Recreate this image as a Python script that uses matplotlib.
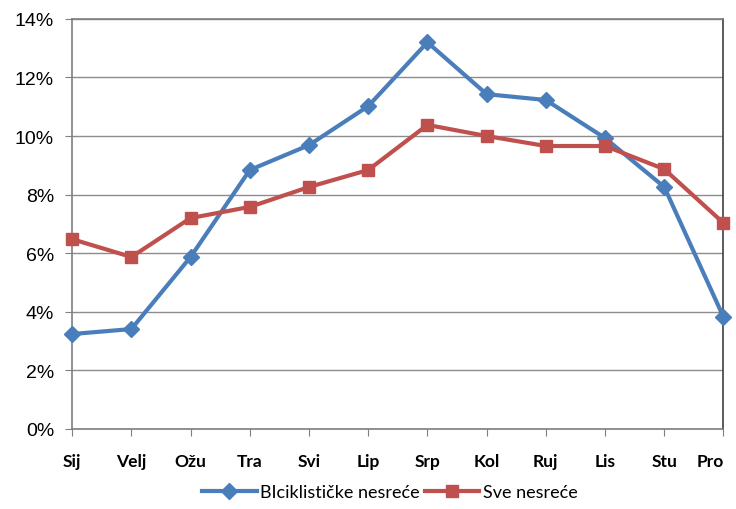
import numpy as np
import matplotlib.pyplot as plt
from matplotlib.ticker import FuncFormatter

# Mjeseci i udjeli nesreća (%)
months = ['Sij', 'Velj', 'Ožu', 'Tra', 'Svi', 'Lip', 'Srp', 'Kol', 'Ruj', 'Lis', 'Stu', 'Pro']
bike_accidents = [3.24, 3.41, 5.87, 8.84, 9.69, 11.02, 13.2, 11.43, 11.23, 9.93, 8.26, 3.82]
all_accidents = [6.48, 5.87, 7.2, 7.58, 8.26, 8.84, 10.38, 10.0, 9.66, 9.66, 8.87, 7.03]
y_ticks = [0, 2, 4, 6, 8, 10, 12, 14]

blue = '#4A7EBB'
red = '#C0504D'

fig = plt.figure(figsize=(7.36, 5.10), dpi=100)
ax = fig.add_axes([0.098, 0.157, 0.885, 0.804])

x = np.arange(len(months))
ax.plot(x, bike_accidents, color=blue, lw=3, marker='D', ms=8,
        label='BIciklističke nesreće', zorder=3, clip_on=False)
ax.plot(x, all_accidents, color=red, lw=3, marker='s', ms=9,
        label='Sve nesreće', zorder=3, clip_on=False)

ax.set_xlim(0, 11)
ax.set_ylim(0, 14)
ax.set_yticks(y_ticks)
ax.yaxis.set_major_formatter(FuncFormatter(lambda v, p: f'{v:.0f}%'))
ax.set_xticks(x)
ax.set_xticklabels(months, fontfamily='Lato', fontweight='bold', fontsize=12.5)
ax.get_xticklabels()[-1].set_horizontalalignment('right')
ax.get_xticklabels()[-1].set_x(11.2)
for lbl in ax.get_yticklabels():
    lbl.set_fontfamily('Liberation Sans')
    lbl.set_fontsize(14)

ax.grid(axis='y', color='#8c8c8c', lw=1)
ax.set_axisbelow(True)
for s in ax.spines.values():
    s.set_color('#7f7f7f')
    s.set_linewidth(1.2)
ax.spines['right'].set_color('#404040')
ax.tick_params(axis='both', direction='out', length=5, color='#7f7f7f')
ax.tick_params(axis='x', pad=12)
ax.tick_params(axis='y', pad=8)

fig.legend(loc='lower center', bbox_to_anchor=(0.53, -0.015), ncol=2, frameon=False,
           prop={'family': 'Lato', 'size': 13}, handlelength=3, columnspacing=0.3,
           handletextpad=0.2)

fig.savefig('out.png', dpi=100)
